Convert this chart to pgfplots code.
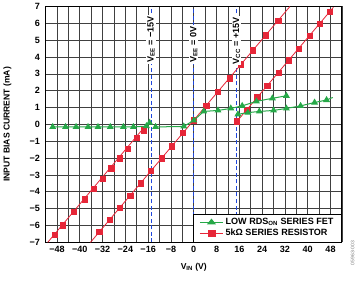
\documentclass[border=0pt]{standalone}
\usepackage{pgfplots}
\pgfplotsset{compat=1.18}
\usepackage{fontspec}
\setmainfont{Liberation Sans}
\definecolor{rred}{RGB}{230,38,56}
\definecolor{rgreen}{RGB}{38,168,72}
\definecolor{rblue}{RGB}{30,70,220}
\begin{document}
\begin{tikzpicture}
\begin{axis}[
  scale only axis, width=294pt, height=234pt,
  xmin=-52, xmax=52, ymin=-7, ymax=7,
  xtick={-48,-40,...,48}, minor xtick={-52,-44,...,52},
  xticklabels={−48,−40,−32,−24,−16,−8,0,8,16,24,32,40,48},
  ytick={-7,-6,...,7},
  yticklabels={−7,−6,−5,−4,−3,−2,−1,0,1,2,3,4,5,6,7},
  grid=both,
  major grid style={black!75, line width=0.7pt},
  minor grid style={black!75, line width=0.7pt},
  axis line style={black, line width=1pt},
  major tick length=0pt, minor tick length=0pt,
  ticklabel style={font=\fontsize{9}{10}\selectfont\bfseries},
  yticklabel style={xshift=-2pt},
  xlabel={V\textsubscript{IN} (V)},
  ylabel={INPUT BIAS CURRENT (mA)},
  label style={font=\fontsize{8.5}{10}\selectfont\bfseries},
  xlabel style={at={(axis description cs:0.5,-0.106)}, anchor=center},
  ylabel style={at={(axis description cs:-0.129,0.5)}, anchor=center},
  legend style={at={(1,0)}, anchor=south east, draw=black, line width=0.8pt, fill=white,
    font=\fontsize{9}{10}\selectfont\bfseries, inner xsep=6pt, inner ysep=2.5pt, row sep=-1pt},
  legend image post style={xscale=1.35},
  legend cell align=left,
  clip mode=individual,
]
% dashed supply lines
\addplot[rblue, line width=1pt, dash pattern=on 4pt off 2.5pt, forget plot] coordinates {(-15,-7) (-15,7)};
\addplot[rblue, line width=1pt, dash pattern=on 4pt off 2.5pt, forget plot] coordinates {(0,-7) (0,7)};
\addplot[rblue, line width=1pt, dash pattern=on 4pt off 2.5pt, forget plot] coordinates {(15,-7) (15,7)};

% legend images
\addlegendimage{rgreen, line width=1pt, mark=triangle*, mark size=3pt, mark options={fill=rgreen}}
\addlegendentry{LOW RDS\textsubscript{ON} SERIES FET}
\addlegendimage{rred, line width=0.8pt, mark=square*, mark size=2.6pt, mark options={fill=rred}}
\addlegendentry{5kΩ SERIES RESISTOR}

% red: 5k series resistor, three supply cases
\addplot[rred, line width=0.8pt, forget plot] coordinates {(-51.25,-7) (-16.3,0.05)};
\addplot[rred, only marks, mark=square*, mark size=2.6pt, forget plot] coordinates {
(-48.8,-6.56) (-45.9,-5.98) (-42,-5.2) (-38.2,-4.44) (-35,-3.8) (-32,-3.2) (-29,-2.6) (-26,-2.0) (-23.3,-1.46) (-20,-0.8) (-17.7,-0.34)};
\addplot[rred, line width=0.8pt, forget plot] coordinates {(-36.25,-7) (33.75,7)};
\addplot[rred, only marks, mark=square*, mark size=2.6pt, forget plot] coordinates {
(-33.2,-6.39) (-29.6,-5.67) (-26,-4.95) (-22.3,-4.21) (-18.7,-3.49) (-15,-2.75) (-11.3,-2.01) (-7.7,-1.29) (-3.8,-0.51) (0,0.25) (4.4,1.13) (8.5,1.95) (12.5,2.75) (16.6,3.57) (20.8,4.41) (25.2,5.29) (29.6,6.17)};
\addplot[rred, line width=0.8pt, forget plot] coordinates {(15.2,0.19) (49,6.95)};
\addplot[rred, only marks, mark=square*, mark size=2.6pt, forget plot] coordinates {
(15.2,0.19) (18.7,0.89) (22.3,1.61) (25.8,2.31) (29.7,3.09) (33.3,3.81) (36.7,4.49) (40.6,5.27) (44.2,5.99) (47.7,6.69)};

% green: low RDSon series FET
\addplot[rgreen, line width=1pt, mark=triangle*, mark size=3pt, mark options={fill=rgreen}, forget plot] coordinates {
(-49.5,-0.15) (-45,-0.15) (-41.3,-0.15) (-37.1,-0.15) (-33.6,-0.15) (-29.3,-0.15) (-24.7,-0.15) (-21.2,-0.15) (-16.6,-0.1) (-15.5,0.1)};
\addplot[rgreen, line width=1pt, mark=triangle*, mark size=3pt, mark options={fill=rgreen}, forget plot] coordinates {
(-13.4,-0.15) (-3.5,-0.12) (0,0.24) (3.5,0.77) (8.5,0.83) (13,0.95) (17,1.1) (22,1.37) (27.6,1.55) (32.5,1.7)};
\addplot[rgreen, line width=1pt, mark=triangle*, mark size=3pt, mark options={fill=rgreen}, forget plot] coordinates {
(15.5,0.6) (19,0.7) (23,0.77) (28,0.83) (32.5,0.95) (37.5,1.1) (42.4,1.3) (46.6,1.45)};
\addplot[rgreen, line width=1pt, forget plot] coordinates {(46.6,1.45) (48.8,1.6)};

% supply labels
\node[rotate=90, anchor=west, fill=white, inner sep=1pt, font=\fontsize{9}{10}\selectfont\bfseries] at (axis cs:-15,3.6) {V\textsubscript{EE} = −15V};
\node[rotate=90, anchor=west, fill=white, inner sep=1pt, font=\fontsize{9}{10}\selectfont\bfseries] at (axis cs:0,3.6) {V\textsubscript{EE} = 0V};
\node[rotate=90, anchor=west, fill=white, inner sep=1pt, font=\fontsize{9}{10}\selectfont\bfseries] at (axis cs:15,3.5) {V\textsubscript{CC} = +15V};
\node[rotate=90, anchor=center, text=black!50, inner sep=0.5pt, font=\fontsize{5}{6}\selectfont] at (axis description cs:1.036,-0.045) {05963-003};
\node[inner sep=0pt, minimum size=1pt] at (axis description cs:1.066,-0.158) {};
\end{axis}
\end{tikzpicture}
\end{document}
